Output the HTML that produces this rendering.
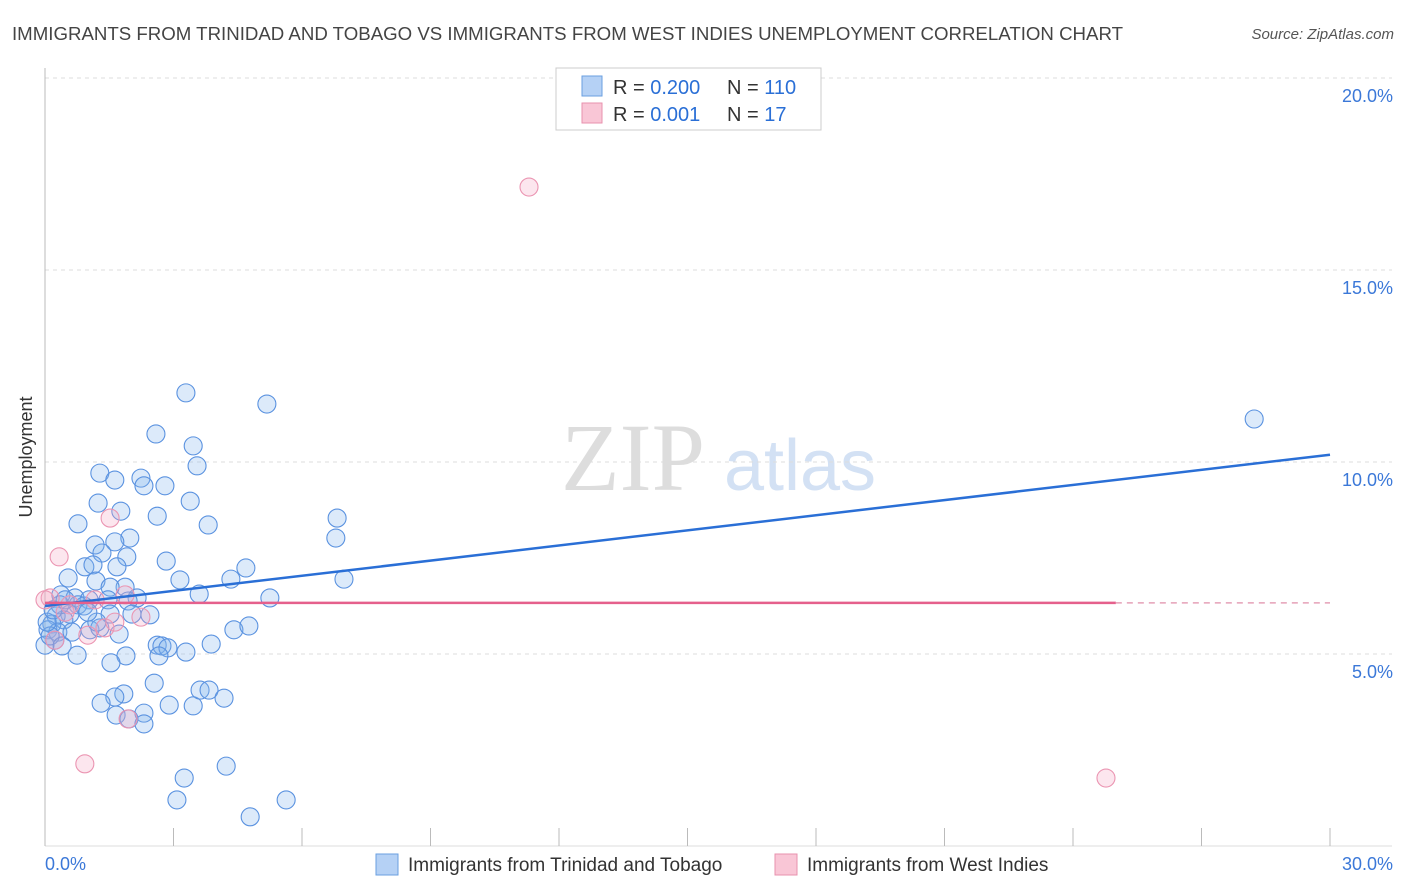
<!DOCTYPE html>
<html><head><meta charset="utf-8"><style>
body{margin:0;background:#fff;font-family:"Liberation Sans",sans-serif;}
svg{display:block}
</style></head><body>
<svg id="chart" width="1406" height="892" xmlns="http://www.w3.org/2000/svg">
<text x="12" y="40" font-size="18" fill="#444" textLength="1111" lengthAdjust="spacingAndGlyphs">IMMIGRANTS FROM TRINIDAD AND TOBAGO VS IMMIGRANTS FROM WEST INDIES UNEMPLOYMENT CORRELATION CHART</text>
<text x="1394" y="39" font-size="15" fill="#555" font-style="italic" text-anchor="end">Source: ZipAtlas.com</text>
<text x="32" y="457" font-size="18" fill="#333" text-anchor="middle" transform="rotate(-90 32 457)">Unemployment</text>
<g>
<text x="633" y="490" font-size="96" fill="#ddd" font-family="Liberation Serif,serif" text-anchor="middle">ZIP</text>
<text x="800" y="490" font-size="72" fill="#d3e1f4" text-anchor="middle">atlas</text>
</g>
<g id="grid"></g><g id="axes"></g><g id="marks"></g><g id="trends"></g>
<g>
<rect x="556" y="68" width="265" height="62" fill="#fff" stroke="#ccc"/>
<rect x="582" y="76" width="20" height="20" fill="#b5d1f5" stroke="#6a9fe0"/>
<rect x="582" y="103" width="20" height="20" fill="#f9c6d6" stroke="#e891ae"/>
<text x="613" y="94" font-size="20" fill="#333">R = <tspan fill="#2a6fd6">0.200</tspan></text>
<text x="727" y="94" font-size="20" fill="#333">N = <tspan fill="#2a6fd6">110</tspan></text>
<text x="613" y="121" font-size="20" fill="#333">R =  <tspan fill="#2a6fd6">0.001</tspan></text>
<text x="727" y="121" font-size="20" fill="#333">N =   <tspan fill="#2a6fd6">17</tspan></text>
</g>
<g>
<rect x="376" y="854" width="22" height="21" fill="#b5d1f5" stroke="#6a9fe0"/>
<text x="408" y="871" font-size="19" fill="#333">Immigrants from Trinidad and Tobago</text>
<rect x="775" y="854" width="22" height="21" fill="#f9c6d6" stroke="#e891ae"/>
<text x="807" y="871" font-size="19" fill="#333">Immigrants from West Indies</text>
</g>
</svg>
<script>
const yTicks=[5,10,15,20];
const yTickLabels=["5.0%","10.0%","15.0%","20.0%"];
const xTickCount=10;
const xEndLabels=["0.0%","30.0%"];
const blueX=[3.29,5.18,2.59,3.46,3.55,1.28,2.24,1.63,2.31,2.80,1.24,3.39,2.62,1.77,0.77,3.81,6.82,6.79,1.98,1.63,1.17,1.33,1.91,2.83,4.69,0.93,1.68,1.12,0.54,3.15,4.34,6.98,1.19,1.87,1.52,0.37,3.60,5.25,0.70,1.03,1.47,2.15,1.94,2.45,2.03,1.52,0.77,0.58,0.91,0.26,0.44,0.16,0.07,0.30,0.63,1.05,1.28,1.73,1.21,1.00,0.23,0.0,0.12,0.40,0.75,2.62,2.73,2.87,3.29,2.66,3.88,4.41,4.76,1.89,1.54,2.55,1.84,1.63,1.31,2.90,3.46,3.62,3.83,4.18,2.31,1.66,1.96,2.31,3.25,4.23,3.08,5.63,4.79,28.23,0.35,0.47,0.05,0.19];
const blueY=[11.80,11.51,10.73,10.42,9.90,9.71,9.58,9.53,9.38,9.38,8.93,8.98,8.59,8.72,8.39,8.36,8.54,8.02,8.02,7.92,7.84,7.63,7.53,7.42,7.24,7.27,7.27,7.32,6.98,6.93,6.95,6.95,6.90,6.74,6.74,6.54,6.56,6.46,6.46,6.41,6.41,6.46,6.38,6.02,6.04,6.04,6.28,6.04,6.25,5.99,5.89,5.78,5.63,5.57,5.57,5.63,5.68,5.52,5.83,6.09,5.36,5.23,5.47,5.21,4.97,5.23,5.21,5.16,5.05,4.95,5.26,5.63,5.73,4.95,4.77,4.24,3.96,3.88,3.72,3.67,3.65,4.06,4.06,3.85,3.46,3.41,3.31,3.18,1.77,2.08,1.20,1.20,0.76,11.12,6.28,6.41,5.83,6.15];
const pinkX=[11.30,1.52,0.33,0.93,24.77,1.94,0.12,1.87,0.58,1.17,1.40,1.00,2.24,1.63,0.47,0.23,0.0];
const pinkY=[17.16,8.54,7.53,2.14,1.77,3.31,6.46,6.54,6.28,6.41,5.68,5.49,5.96,5.83,6.09,5.36,6.41];
const blueTrend=[6.25,10.19];
const pinkTrend=[6.33,6.33];
const pinkSolidEnd=25;

const NS="http://www.w3.org/2000/svg";
const X=v=>45+v/30*1285;
const Y=v=>846-v/5*192;
function mk(tag,attrs,parent){const e=document.createElementNS(NS,tag);for(const k in attrs)e.setAttribute(k,attrs[k]);parent.appendChild(e);return e;}
const grid=document.getElementById('grid'),axes=document.getElementById('axes'),marks=document.getElementById('marks'),trends=document.getElementById('trends');
yTicks.forEach((t,i)=>{
  const l=mk('line',{x1:45,x2:1392,y1:Y(t),y2:Y(t),stroke:'#ddd','stroke-dasharray':'4,4'},grid);
  
  
  const tx=mk('text',{x:1393,y:Y(t)+24,'font-size':18,fill:'#3b78d8','text-anchor':'end'},axes);
  tx.textContent=yTickLabels[i];
  
  
});
const ax=mk('line',{x1:45,x2:45,y1:68,y2:846,stroke:'#bbb'},axes);


const bx=mk('line',{x1:45,x2:1392,y1:846,y2:846,stroke:'#ddd'},axes);


for(let i=0;i<=xTickCount;i++){
  const t=mk('line',{x1:X(i*3),x2:X(i*3),y1:828,y2:846,stroke:'#bbb'},axes);
  
  
}
[[0,'start',45],[30,'end',1393]].forEach((d,i)=>{
  const t=mk('text',{x:d[2],y:870,'font-size':18,fill:'#3b78d8','text-anchor':d[1]},axes);
  t.textContent=xEndLabels[i];
  
  
});
blueX.forEach((v,i)=>{
  const c=mk('circle',{cx:X(v),cy:Y(blueY[i]),r:9,fill:'rgba(130,178,238,0.28)',stroke:'#5a92e0','stroke-width':1.1},marks);
  
  
});
pinkX.forEach((v,i)=>{
  const c=mk('circle',{cx:X(v),cy:Y(pinkY[i]),r:9,fill:'rgba(245,165,195,0.28)',stroke:'#eb95b2','stroke-width':1.1},marks);
  
  
});
const bl=mk('line',{x1:X(0),y1:Y(blueTrend[0]),x2:X(30),y2:Y(blueTrend[1]),stroke:'#2a6fd6','stroke-width':2.5},trends);


const pl=mk('line',{x1:X(0),y1:Y(pinkTrend[0]),x2:X(pinkSolidEnd),y2:Y(pinkTrend[0]+(pinkTrend[1]-pinkTrend[0])*pinkSolidEnd/30),stroke:'#e5608c','stroke-width':2.5},trends);


const pd=mk('line',{x1:X(pinkSolidEnd),y1:Y(pinkTrend[0]+(pinkTrend[1]-pinkTrend[0])*pinkSolidEnd/30),x2:X(30),y2:Y(pinkTrend[1]),stroke:'#e5a0b8','stroke-width':1.5,'stroke-dasharray':'6,5'},trends);


</script>
</body></html>
